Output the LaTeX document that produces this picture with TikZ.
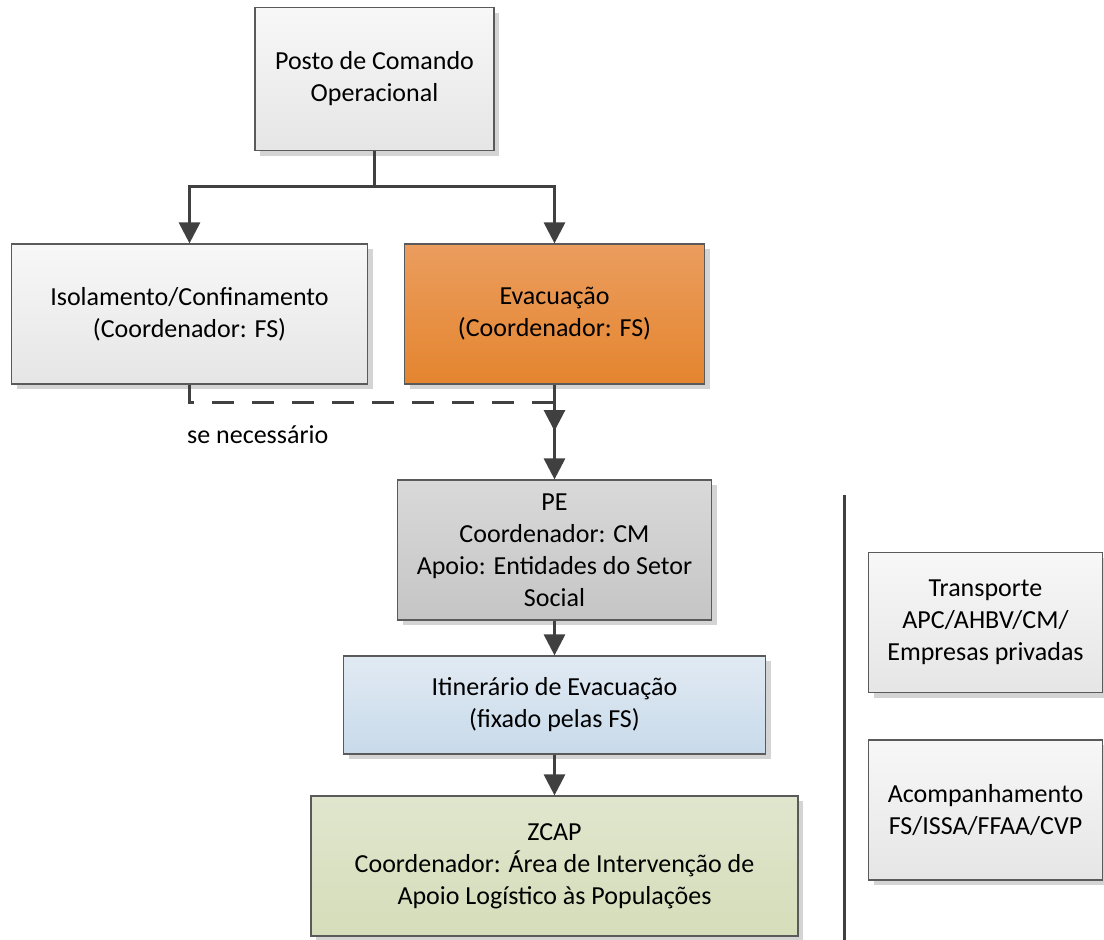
\documentclass[tikz,border=0pt]{standalone}
\usepackage{fontspec}
\setmainfont{Carlito}
\usetikzlibrary{arrows.meta,shadows}
\definecolor{linec}{HTML}{404040}
\definecolor{borderc}{HTML}{5A5A5A}
\definecolor{shadc}{HTML}{D4D4D4}
\begin{document}
\begin{tikzpicture}[x=1pt,y=-1pt,
  box/.style={draw=borderc, line width=1.2pt, align=center, inner sep=0pt,
    font=\fontsize{26}{32}\selectfont, text=black,
    drop shadow={shadow xshift=5pt, shadow yshift=-5pt, fill=shadc, opacity=1}},
  whitebox/.style={box, top color=white!97!black, bottom color=white!90!black},
  orangebox/.style={box, top color=orgtop, bottom color=orgbot},
  graybox/.style={box, top color=graytop, bottom color=graybot},
  bluebox/.style={box, top color=bluetop, bottom color=bluebot},
  greenbox/.style={box, top color=greentop, bottom color=greenbot},
  conn/.style={draw=linec, line width=3pt},
  arr/.style={conn, -{Triangle[width=21pt,length=21pt]}},
  dashconn/.style={conn, dash pattern=on 22pt off 18pt},
  lbl/.style={font=\fontsize{26}{32}\selectfont, text=black, inner sep=0pt}
]
\definecolor{orgtop}{HTML}{EB9D5E}
\definecolor{orgbot}{HTML}{E4852F}
\definecolor{graytop}{HTML}{D9D9D9}
\definecolor{graybot}{HTML}{C5C5C5}
\definecolor{bluetop}{HTML}{E1EAF3}
\definecolor{bluebot}{HTML}{C8DAEA}
\definecolor{greentop}{HTML}{E0E6CD}
\definecolor{greenbot}{HTML}{D5DDBA}
\useasboundingbox (0,0) rectangle (1104,940);

\node[whitebox, minimum width=239pt, minimum height=143pt] (posto) at (374.5,79) {Posto de Comando\\Operacional};
\node[whitebox, minimum width=356pt, minimum height=140pt] (iso) at (189.5,314) {Isolamento/Confinamento\\(Coordenador: FS)};
\node[orangebox, minimum width=300pt, minimum height=140pt] (evac) at (554.5,314) {Evacuação\\(Coordenador: FS)};
\node[graybox, minimum width=314pt, minimum height=140pt] (pe) at (554.5,550) {PE\\Coordenador: CM\\Apoio: Entidades do Setor\\Social};
\node[bluebox, minimum width=422pt, minimum height=98pt] (itin) at (554.5,705) {Itinerário de Evacuação\\(fixado pelas FS)};
\node[greenbox, minimum width=487pt, minimum height=140pt] (zcap) at (554.5,866) {ZCAP\\Coordenador: Área de Intervenção de\\Apoio Logístico às Populações};
\node[whitebox, minimum width=234pt, minimum height=140pt] (transp) at (985.5,622.5) {Transporte\\APC/AHBV/CM/\\Empresas privadas};
\node[whitebox, minimum width=234pt, minimum height=140pt] (acomp) at (985.5,810) {Acompanhamento\\FS/ISSA/FFAA/CVP};

\node[lbl, anchor=west] (senec) at (187,435) {se necessário};

\coordinate (bus) at (374.5,186);
\coordinate (dj) at (554.5,402);
\coordinate (dend) at (554.5,431);
\coordinate (v1) at (844,495);
\coordinate (v2) at (844,940);

\draw[conn] (posto.south) -- (bus);
\draw[arr] (bus) -| (iso.north);
\draw[arr] (bus) -| (evac.north);
\draw[arr] (evac.south) -- (pe.north);
\draw[dashconn] (iso.south) |- (dj);
\draw[arr] (dj) -- (dend);
\draw[arr] (pe.south) -- (itin.north);
\draw[arr] (itin.south) -- (zcap.north);
\draw[conn] (v1) -- (v2);
\end{tikzpicture}
\end{document}
